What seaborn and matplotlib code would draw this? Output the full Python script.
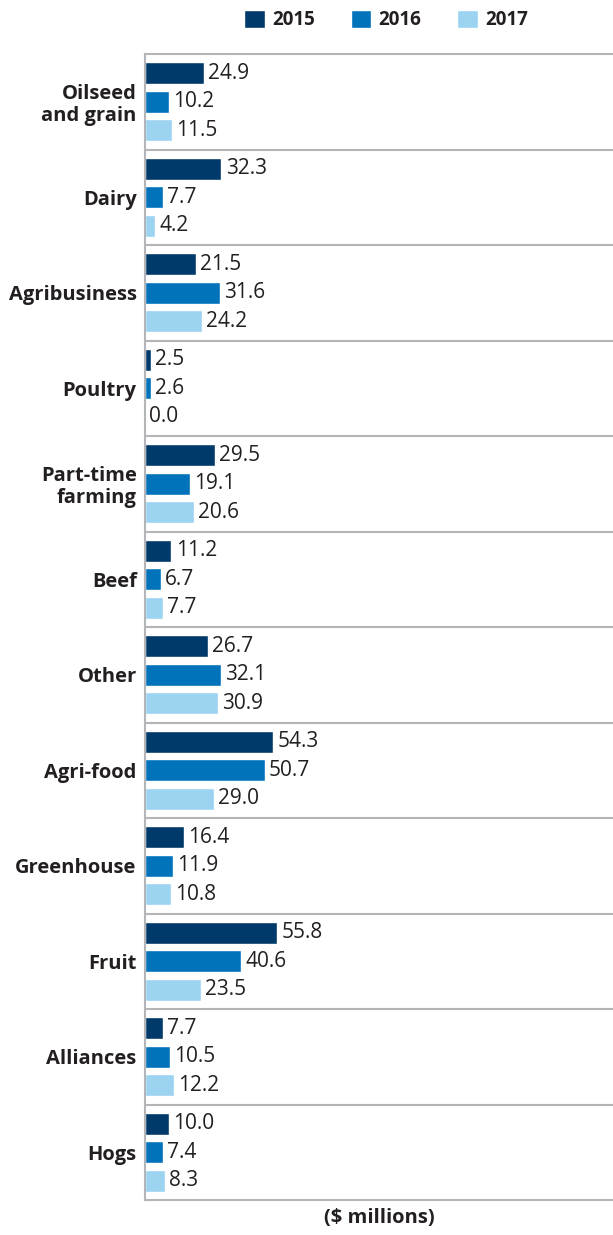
import pandas as pd
import matplotlib.pyplot as plt
import seaborn as sns
from matplotlib.patches import Patch

# Data
sectors = ['Oilseed\nand grain', 'Dairy', 'Agribusiness', 'Poultry', 'Part-time\nfarming',
           'Beef', 'Other', 'Agri-food', 'Greenhouse', 'Fruit', 'Alliances', 'Hogs']
years = ['2015', '2016', '2017']
v2015 = [24.9, 32.3, 21.5, 2.5, 29.5, 11.2, 26.7, 54.3, 16.4, 55.8, 7.7, 10.0]
v2016 = [10.2, 7.7, 31.6, 2.6, 19.1, 6.7, 32.1, 50.7, 11.9, 40.6, 10.5, 7.4]
v2017 = [11.5, 4.2, 24.2, 0.0, 20.6, 7.7, 30.9, 29.0, 10.8, 23.5, 12.2, 8.3]
colors = ['#003a6b', '#0073bb', '#9bd3f1']

df = pd.DataFrame({
    'sector': sectors * 3,
    'year': [y for y in years for _ in sectors],
    'value': v2015 + v2016 + v2017,
})

sns.set_style('white')
plt.rcParams['font.family'] = ['Open Sans', 'DejaVu Sans']
text_col = '#231f20'
line_col = '#b3b5b8'

fig = plt.figure(figsize=(6.13, 12.35), dpi=100)
ax = fig.add_axes([145 / 613, 1 - 1200 / 1235, 1 - 145 / 613, (1200 - 54) / 1235])

sns.barplot(data=df, x='value', y='sector', hue='year', order=sectors,
            palette=colors, saturation=1, width=0.9, gap=0.23, legend=False, ax=ax)

for c in ax.containers:
    ax.bar_label(c, fmt='%.1f', padding=3, fontsize=15, color=text_col)

ax.set_xlim(0, 468 / 2.366)
ax.set_ylim(len(sectors) - 0.5, -0.5)
for i in range(1, len(sectors)):
    ax.axhline(i - 0.5, color=line_col, lw=1.5)

ax.set_xticks([])
ax.set_ylabel('')
ax.set_xlabel('($ millions)', fontsize=14.5, fontweight='bold', color=text_col, labelpad=6)
ax.tick_params(axis='y', length=0, pad=6)
for lab in ax.get_yticklabels():
    lab.set_fontweight('bold')
    lab.set_fontsize(14.5)
    lab.set_color(text_col)
    lab.set_linespacing(1.1)

for s in ['top', 'bottom', 'left']:
    ax.spines[s].set_color(line_col)
    ax.spines[s].set_linewidth(1.5)
ax.spines['right'].set_visible(False)

handles = [Patch(facecolor=c, label=y) for c, y in zip(colors, years)]
leg = fig.legend(handles=handles, loc='center', bbox_to_anchor=(386 / 613, 1 - 20 / 1235),
                 ncol=3, frameon=False, handlelength=1.1, handleheight=1.1,
                 handletextpad=0.4, columnspacing=1.9,
                 prop={'weight': 'bold', 'size': 13.5})
for t in leg.get_texts():
    t.set_color(text_col)

fig.savefig('out.png', dpi=100)
